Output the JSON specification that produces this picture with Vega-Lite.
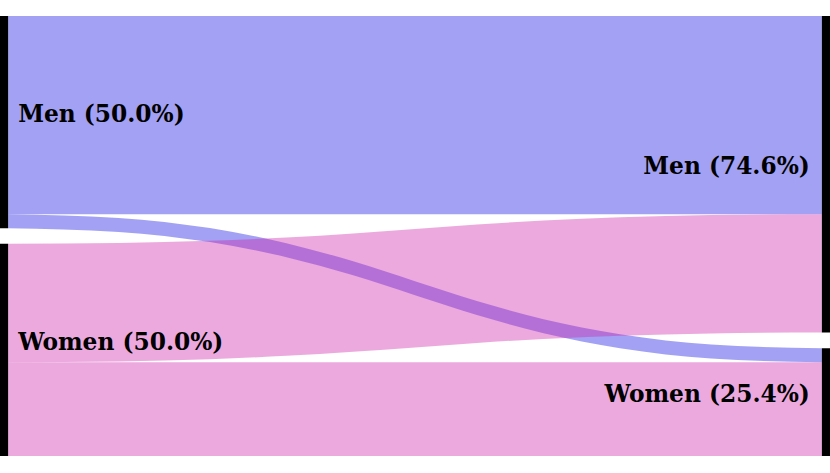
{
  "$schema": "https://vega.github.io/schema/vega-lite/v6.json",
  "width": 830,
  "height": 440,
  "autosize": {"type": "none"},
  "padding": {"top": 16, "bottom": 17, "left": 0, "right": 0},
  "background": "white",
  "config": {"view": {"stroke": null}},
  "datasets": {
    "links": [
      {"link": "Men→Men", "source": "Men", "x": 0, "top": 0, "bottom": 467},
      {"link": "Men→Men", "source": "Men", "x": 1, "top": 0, "bottom": 467},
      {"link": "Men→Women", "source": "Men", "x": 0, "top": 467, "bottom": 500},
      {"link": "Men→Women", "source": "Men", "x": 0.136, "top": 475.8, "bottom": 508.8},
      {"link": "Men→Women", "source": "Men", "x": 0.248, "top": 499.9, "bottom": 532.9},
      {"link": "Men→Women", "source": "Men", "x": 0.342, "top": 535.3, "bottom": 568.3},
      {"link": "Men→Women", "source": "Men", "x": 0.424, "top": 578.2, "bottom": 611.2},
      {"link": "Men→Women", "source": "Men", "x": 0.5, "top": 625, "bottom": 658},
      {"link": "Men→Women", "source": "Men", "x": 0.576, "top": 671.8, "bottom": 704.8},
      {"link": "Men→Women", "source": "Men", "x": 0.658, "top": 714.7, "bottom": 747.7},
      {"link": "Men→Women", "source": "Men", "x": 0.752, "top": 750.1, "bottom": 783.1},
      {"link": "Men→Women", "source": "Men", "x": 0.864, "top": 774.2, "bottom": 807.2},
      {"link": "Men→Women", "source": "Men", "x": 1, "top": 783, "bottom": 816},
      {"link": "Women→Men", "source": "Women", "x": 0, "top": 537, "bottom": 816},
      {"link": "Women→Men", "source": "Women", "x": 0.136, "top": 535.0, "bottom": 814.0},
      {"link": "Women→Men", "source": "Women", "x": 0.248, "top": 529.7, "bottom": 808.7},
      {"link": "Women→Men", "source": "Women", "x": 0.342, "top": 521.9, "bottom": 800.9},
      {"link": "Women→Men", "source": "Women", "x": 0.424, "top": 512.4, "bottom": 791.4},
      {"link": "Women→Men", "source": "Women", "x": 0.5, "top": 502, "bottom": 781},
      {"link": "Women→Men", "source": "Women", "x": 0.576, "top": 491.6, "bottom": 770.6},
      {"link": "Women→Men", "source": "Women", "x": 0.658, "top": 482.1, "bottom": 761.1},
      {"link": "Women→Men", "source": "Women", "x": 0.752, "top": 474.3, "bottom": 753.3},
      {"link": "Women→Men", "source": "Women", "x": 0.864, "top": 469.0, "bottom": 748.0},
      {"link": "Women→Men", "source": "Women", "x": 1, "top": 467, "bottom": 746},
      {"link": "Women→Women", "source": "Women", "x": 0, "top": 816, "bottom": 1037},
      {"link": "Women→Women", "source": "Women", "x": 1, "top": 816, "bottom": 1037}
    ],
    "nodes": [
      {"node": "Men", "side": "left", "x0": -0.01, "x1": 0, "y0": 0, "y1": 500, "mid": 250, "label": "Men (50.0%)"},
      {"node": "Women", "side": "left", "x0": -0.01, "x1": 0, "y0": 537, "y1": 1037, "mid": 787, "label": "Women (50.0%)"},
      {"node": "Men", "side": "right", "x0": 1, "x1": 1.01, "y0": 0, "y1": 746, "mid": 373, "label": "Men (74.6%)"},
      {"node": "Women", "side": "right", "x0": 1, "x1": 1.01, "y0": 783, "y1": 1037, "mid": 910, "label": "Women (25.4%)"}
    ]
  },
  "resolve": {"scale": {"color": "shared"}},
  "layer": [
    {
      "data": {"name": "links"},
      "transform": [{"filter": "datum.source === 'Men'"}],
      "mark": {"type": "area", "interpolate": "monotone", "opacity": 0.4},
      "encoding": {
        "x": {"field": "x", "type": "quantitative", "scale": {"domain": [-0.01, 1.01], "nice": false, "zero": false}, "axis": null},
        "y": {"field": "top", "type": "quantitative", "stack": null, "scale": {"domain": [0, 1037], "reverse": true, "nice": false, "zero": false}, "axis": null},
        "y2": {"field": "bottom"},
        "detail": {"field": "link"},
        "color": {"field": "source", "type": "nominal", "scale": {"domain": ["Men", "Women"], "range": ["#1614e1", "#d028ad"]}, "legend": null}
      }
    },
    {
      "data": {"name": "links"},
      "transform": [{"filter": "datum.source === 'Women'"}],
      "mark": {"type": "area", "interpolate": "monotone", "opacity": 0.4},
      "encoding": {
        "x": {"field": "x", "type": "quantitative"},
        "y": {"field": "top", "type": "quantitative", "stack": null},
        "y2": {"field": "bottom"},
        "detail": {"field": "link"},
        "color": {"field": "source", "type": "nominal", "legend": null}
      }
    },
    {
      "data": {"name": "nodes"},
      "mark": {"type": "rect", "color": "black"},
      "encoding": {
        "x": {"field": "x0", "type": "quantitative"},
        "x2": {"field": "x1"},
        "y": {"field": "y0", "type": "quantitative"},
        "y2": {"field": "y1"}
      }
    },
    {
      "data": {"name": "nodes"},
      "transform": [{"filter": "datum.side === 'left'"}],
      "mark": {"type": "text", "align": "left", "baseline": "alphabetic", "dx": 10, "font": "DejaVu Serif", "fontWeight": "bold", "fontSize": 23.3, "color": "black"},
      "encoding": {
        "x": {"field": "x1", "type": "quantitative"},
        "y": {"field": "mid", "type": "quantitative"},
        "text": {"field": "label"}
      }
    },
    {
      "data": {"name": "nodes"},
      "transform": [{"filter": "datum.side === 'right'"}],
      "mark": {"type": "text", "align": "right", "baseline": "alphabetic", "dx": -12, "font": "DejaVu Serif", "fontWeight": "bold", "fontSize": 23.3, "color": "black"},
      "encoding": {
        "x": {"field": "x0", "type": "quantitative"},
        "y": {"field": "mid", "type": "quantitative"},
        "text": {"field": "label"}
      }
    }
  ]
}
